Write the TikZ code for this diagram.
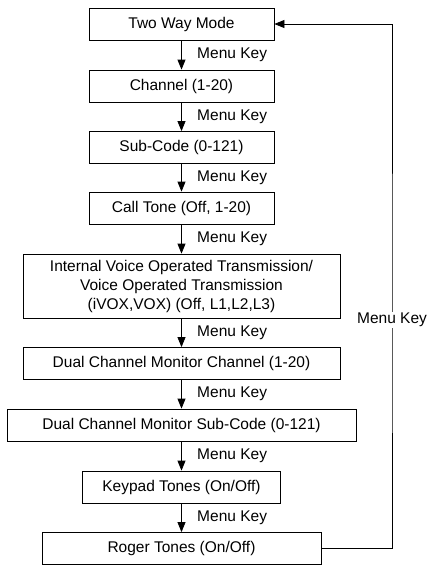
\documentclass[tikz,border=0pt]{standalone}
\usepackage{fontspec}
\setmainfont{Liberation Sans}
\usetikzlibrary{arrows.meta}
\begin{document}
\begin{tikzpicture}[x=1pt,y=1pt,line width=.8pt,>={Triangle[length=10pt,width=8pt]},font=\fontsize{15.5}{19}\selectfont]
	\tikzset{menubox/.style={draw, minimum height=32pt, align=center, inner sep=2pt}}
	\useasboundingbox (0,0) rectangle (429,-565);
	\node[menubox,minimum width=185pt] (two) at (181.5,-24) {Two Way Mode};
	\node[menubox,minimum width=185pt] (chan) at (181.5,-86) {Channel (1-20)};
	\node[menubox,minimum width=185pt] (sub) at (181.5,-147.5) {Sub-Code (0-121)};
	\node[menubox,minimum width=185pt] (call) at (181.5,-208) {Call Tone (Off, 1-20)};
	\node[menubox,minimum width=317pt,minimum height=64pt] (vox) at (181.5,-286) {Internal Voice Operated Transmission/\\Voice Operated Transmission\\(iVOX,VOX) (Off, L1,L2,L3)};
	\node[menubox,minimum width=317pt] (dcmch) at (181.5,-363.5) {Dual Channel Monitor Channel (1-20)};
	\node[menubox,minimum width=349pt] (dcmsub) at (181.5,-425) {Dual Channel Monitor Sub-Code (0-121)};
	\node[menubox,minimum width=198pt] (keypad) at (181.5,-487) {Keypad Tones (On/Off)};
	\node[menubox,minimum width=279pt] (roger) at (181.5,-548.5) {Roger Tones (On/Off)};
	\draw[->] (two)--(chan) node[midway,right=12pt]{Menu Key};
	\draw[->] (chan)--(sub) node[midway,right=12pt]{Menu Key};
	\draw[->] (sub)--(call) node[midway,right=12pt]{Menu Key};
	\draw[->] (call)--(vox) node[midway,right=12pt]{Menu Key};
	\draw[->] (vox)--(dcmch) node[midway,right=12pt]{Menu Key};
	\draw[->] (dcmch)--(dcmsub) node[midway,right=12pt]{Menu Key};
	\draw[->] (dcmsub)--(keypad) node[midway,right=12pt]{Menu Key};
	\draw[->] (keypad)--(roger) node[midway,right=12pt]{Menu Key};
	\draw[->] (roger.east) -| (392,-320) node[fill=white,inner sep=1pt]{Menu Key} |- (two.east);
\end{tikzpicture}
\end{document}
